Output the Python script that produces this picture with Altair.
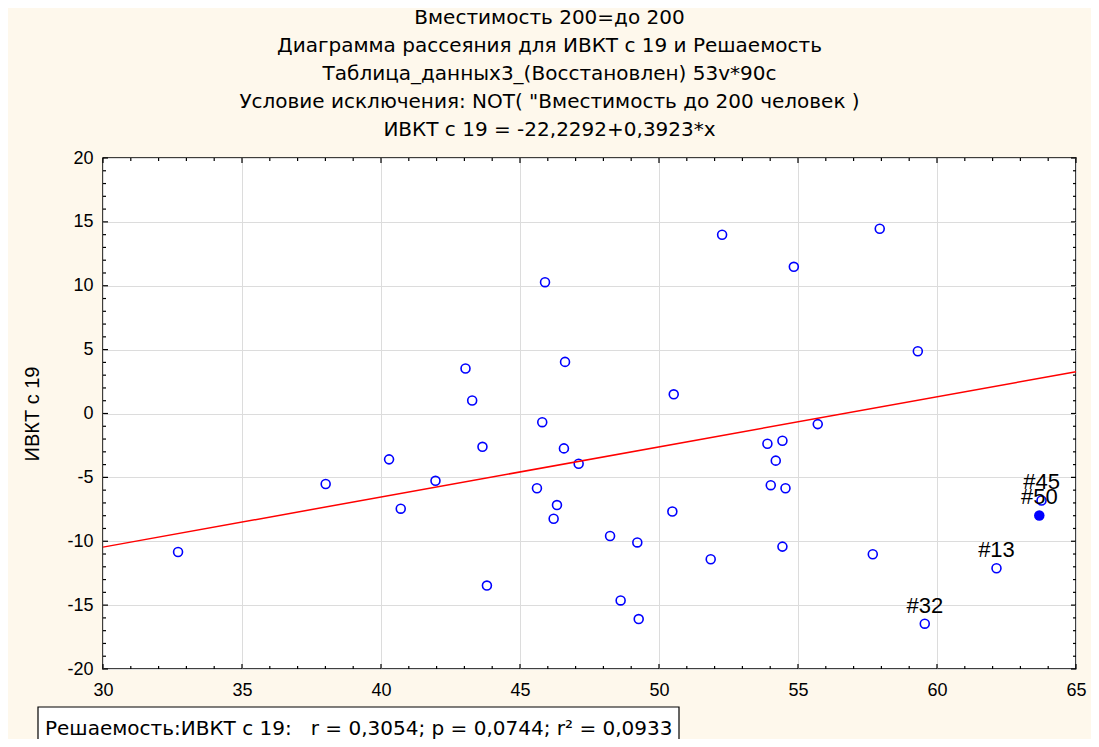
import altair as alt
import pandas as pd

# ---- data ----
x_vals = [32.70, 38.01, 40.29, 40.71, 41.96, 43.04, 43.28, 43.65, 43.81, 45.61,
          45.80, 45.90, 46.21, 46.33, 46.58, 46.62, 47.11, 48.24, 48.62, 49.22,
          49.27, 50.48, 50.53, 51.86, 52.27, 53.90, 54.02, 54.20, 54.44, 54.44,
          54.55, 54.85, 55.71, 57.69, 57.94, 59.31, 59.56, 62.14, 63.76, 63.68]
y_vals = [-10.84, -5.52, -3.59, -7.45, -5.27, 3.52, 1.02, -2.61, -13.47, -5.85,
          -0.68, 10.28, -8.24, -7.17, -2.73, 4.04, -3.93, -9.59, -14.63, -10.09,
          -16.09, -7.67, 1.50, -11.41, 13.99, -2.37, -5.61, -3.69, -2.13, -10.42,
          -5.85, 11.48, -0.83, -11.02, 14.46, 4.87, -16.45, -12.11, -6.81, -7.98]
point_labels = [""] * 36 + ["#32", "#13", "#45", "#50"]
point_filled = [False] * 39 + [True]

intercept = -22.2292
slope = 0.3923
line_x = [30, 65]

x_major = [30, 35, 40, 45, 50, 55, 60, 65]
y_major = [-20, -15, -10, -5, 0, 5, 10, 15, 20]
x_minor = [v for v in range(30, 66) if v % 5 != 0]
y_minor = [v for v in range(-20, 21) if v % 5 != 0]

title_lines = [
    "Вместимость 200=до 200",
    "Диаграмма рассеяния для ИВКТ с 19 и Решаемость",
    "Таблица_данных3_(Восстановлен) 53v*90c",
    "Условие исключения: NOT( \"Вместимость до 200 человек )",
    "ИВКТ с 19 = -22,2292+0,3923*x",
]
y_title = "ИВКТ с 19"
stats_text = "Решаемость:ИВКТ с 19:\u00a0\u00a0\u00a0r = 0,3054; p = 0,0744; r\u00b2 = 0,0933"

FONT = "Liberation Sans"
WIDE = "DejaVu Sans"
W, H = 973, 511

pts = pd.DataFrame({"x": x_vals, "y": y_vals, "label": point_labels, "filled": point_filled})
line_df = pd.DataFrame({"x": line_x, "y": [intercept + slope * v for v in line_x]})

xs = alt.Scale(domain=[30, 65], nice=False, zero=False)
ys = alt.Scale(domain=[-20, 20], nice=False, zero=False)

X = alt.X("x:Q", scale=xs, title=None,
          axis=alt.Axis(values=x_major, grid=True, gridColor="#DCDCDC", tickSize=0, domain=False,
                        labelFontSize=18, labelFont=FONT, labelColor="black", labelPadding=12,
                        labelFlush=False, labelExpr="toString(datum.value)"))
Y = alt.Y("y:Q", scale=ys, title=y_title,
          axis=alt.Axis(values=y_major, grid=True, gridColor="#DCDCDC", tickSize=0, domain=False,
                        labelFontSize=18, labelFont=FONT, labelColor="black", labelPadding=10,
                        labelExpr="toString(datum.value)",
                        titleFontSize=20, titleFont=FONT, titleFontWeight="normal", titleColor="black",
                        titlePadding=24))

base = alt.Chart(pts)

open_pts = base.transform_filter("!datum.filled").mark_point(
    shape="circle", filled=False, size=80, strokeWidth=1.6, color="#0000FF", opacity=1
).encode(x=X, y=Y)

filled_pts = base.transform_filter("datum.filled").mark_point(
    shape="circle", filled=True, size=110, color="#0000FF", opacity=1
).encode(x=alt.X("x:Q", scale=xs), y=alt.Y("y:Q", scale=ys))

labels = base.transform_filter("datum.label != ''").mark_text(
    font=FONT, fontSize=22, color="black", dy=-18, align="center", baseline="middle"
).encode(x=alt.X("x:Q", scale=xs), y=alt.Y("y:Q", scale=ys), text="label:N")

fit = alt.Chart(line_df).mark_line(color="#FF0000", strokeWidth=1.5).encode(
    x=alt.X("x:Q", scale=xs), y=alt.Y("y:Q", scale=ys))

def xticks(vals, length):
    d = pd.DataFrame({"x": vals})
    bot = alt.Chart(d).mark_rule(color="black", strokeWidth=1.2).encode(
        x=alt.X("x:Q", scale=xs), y=alt.value(H), y2=alt.value(H - length))
    top = alt.Chart(d).mark_rule(color="black", strokeWidth=1.2).encode(
        x=alt.X("x:Q", scale=xs), y=alt.value(0), y2=alt.value(length))
    return [bot, top]

def yticks(vals, length):
    d = pd.DataFrame({"y": vals})
    left = alt.Chart(d).mark_rule(color="black", strokeWidth=1.2).encode(
        y=alt.Y("y:Q", scale=ys), x=alt.value(0), x2=alt.value(length))
    right = alt.Chart(d).mark_rule(color="black", strokeWidth=1.2).encode(
        y=alt.Y("y:Q", scale=ys), x=alt.value(W), x2=alt.value(W - length))
    return [left, right]

tick_layers = xticks(x_major, 5) + xticks(x_minor, 3) + yticks(y_major, 5) + yticks(y_minor, 3)

box_df = pd.DataFrame({"t": [stats_text]})
box = alt.Chart(box_df).mark_rect(fill="white", stroke="black", strokeWidth=1.2).encode(
    x=alt.value(-65), x2=alt.value(576), y=alt.value(549), y2=alt.value(600))
box_text = alt.Chart(box_df).mark_text(
    font=WIDE, fontSize=20, color="black", align="left", baseline="middle"
).encode(x=alt.value(-58), y=alt.value(571), text="t:N")

chart = alt.layer(
    open_pts, fit, filled_pts, labels, *tick_layers, box, box_text
).properties(
    width=W, height=H,
    title=alt.TitleParams(text=title_lines, font=WIDE, fontSize=20, fontWeight="normal",
                          color="black", lineHeight=28, anchor="middle", dx=-40, offset=9),
    autosize=alt.AutoSizeParams(type="none"),
    padding={"left": 95, "top": 150, "right": 15, "bottom": 70},
).configure(background="#FEF8EC").configure_view(fill="white", stroke="black", strokeWidth=1.5)

chart.save("out.html", embed_options={"renderer": "svg", "actions": False})
